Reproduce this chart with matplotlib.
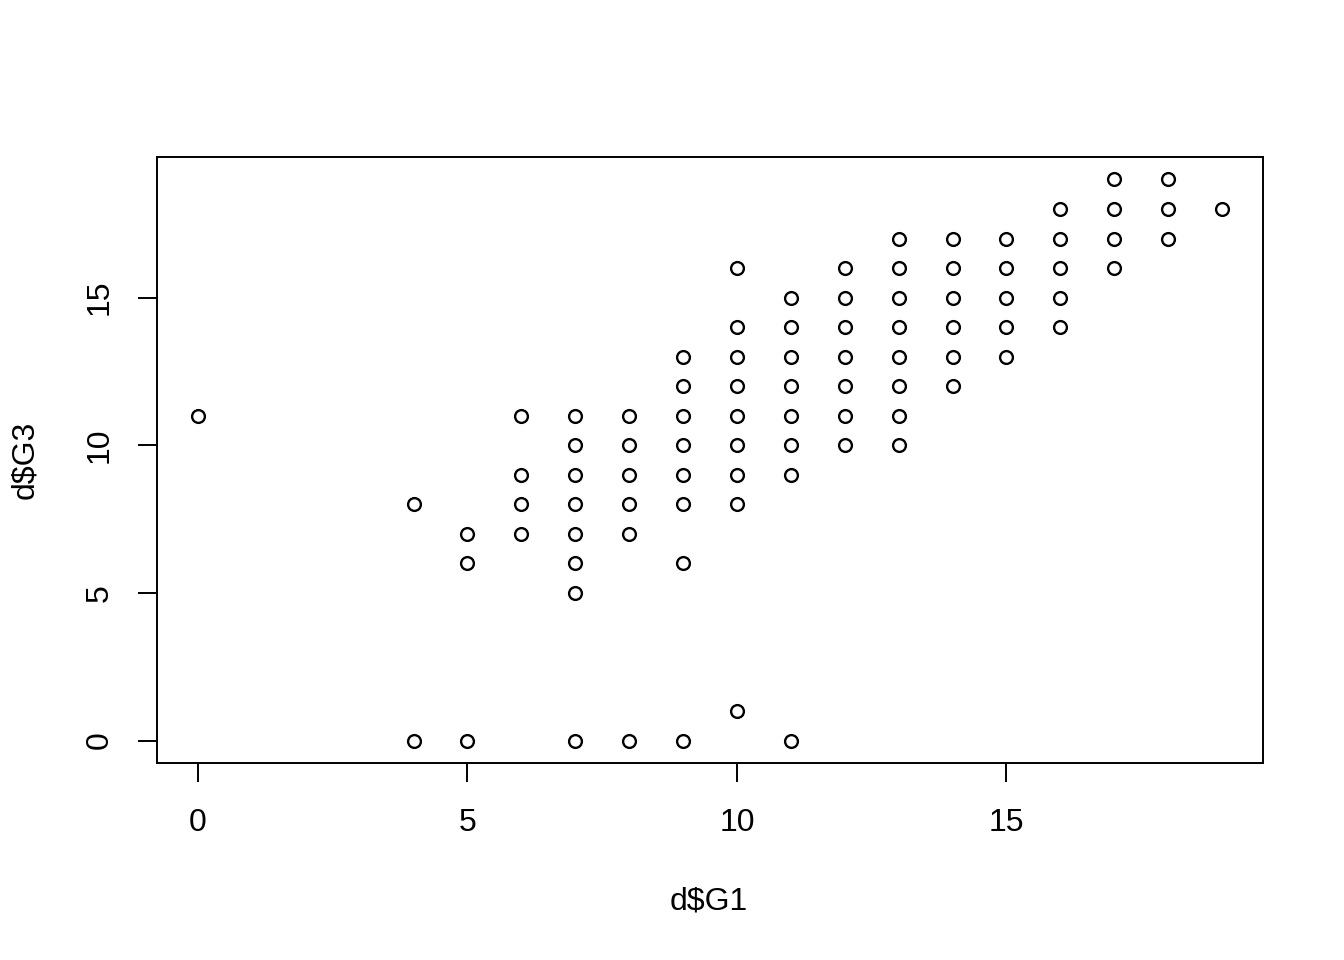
import matplotlib
matplotlib.use("Agg")
import matplotlib.pyplot as plt

plt.rcParams['font.family'] = ['Liberation Sans', 'DejaVu Sans']

g1 = [0,
      4, 4,
      5, 5, 5,
      6, 6, 6, 6,
      7, 7, 7, 7, 7, 7, 7, 7,
      8, 8, 8, 8, 8, 8,
      9, 9, 9, 9, 9, 9, 9, 9,
      10, 10, 10, 10, 10, 10, 10, 10, 10,
      11, 11, 11, 11, 11, 11, 11, 11,
      12, 12, 12, 12, 12, 12, 12,
      13, 13, 13, 13, 13, 13, 13, 13,
      14, 14, 14, 14, 14, 14,
      15, 15, 15, 15, 15,
      16, 16, 16, 16, 16,
      17, 17, 17, 17,
      18, 18, 18,
      19]
g3 = [11,
      8, 0,
      7, 6, 0,
      11, 9, 8, 7,
      11, 10, 9, 8, 7, 6, 5, 0,
      11, 10, 9, 8, 7, 0,
      13, 12, 11, 10, 9, 8, 6, 0,
      16, 14, 13, 12, 11, 10, 9, 8, 1,
      15, 14, 13, 12, 11, 10, 9, 0,
      16, 15, 14, 13, 12, 11, 10,
      17, 16, 15, 14, 13, 12, 11, 10,
      17, 16, 15, 14, 13, 12,
      17, 16, 15, 14, 13,
      18, 17, 16, 15, 14,
      19, 18, 17, 16,
      19, 18, 17,
      18]
xticks = [0, 5, 10, 15]
yticks = [0, 5, 10, 15]

W, H = 1344, 960
fig = plt.figure(figsize=(W / 100, H / 100), dpi=100)
ax = fig.add_axes([157 / W, 1 - 763 / H, (1263 - 157) / W, (763 - 157) / H])

ax.plot(g1, g3, linestyle='none', marker='o', markersize=9.2,
        markerfacecolor='none', markeredgecolor='black', markeredgewidth=1.7)

pad_x = 0.04 * (max(g1) - min(g1))
pad_y = 0.04 * (max(g3) - min(g3))
ax.set_xlim(min(g1) - pad_x, max(g1) + pad_x)
ax.set_ylim(min(g3) - pad_y, max(g3) + pad_y)

ax.set_xticks(xticks)
ax.set_yticks(yticks)
ax.set_xticklabels([str(t) for t in xticks])
ax.set_yticklabels([str(t) for t in yticks], rotation=90, va='center')
ax.tick_params(axis='both', direction='out', length=13.7, width=1.4,
               labelsize=23, colors='black')
ax.tick_params(axis='x', pad=19)
ax.tick_params(axis='y', pad=17)
for s in ax.spines.values():
    s.set_linewidth(1.4)
    s.set_color('black')

fig.text(709 / W, 1 - 901 / H, 'd$G1', ha='center', va='center', fontsize=23)
fig.text(25 / W, 1 - 460 / H, 'd$G3', ha='center', va='center', fontsize=23,
         rotation=90)

fig.savefig('out.png', dpi=100, facecolor='white')
